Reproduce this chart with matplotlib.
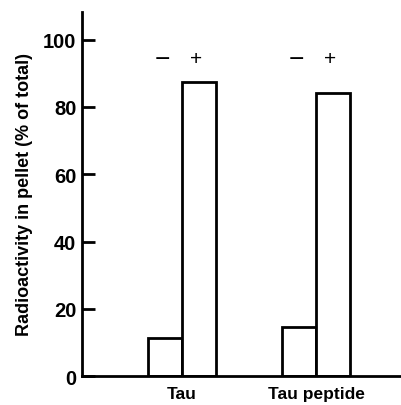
import numpy as np
import matplotlib.pyplot as plt

plt.rcParams['font.family'] = ['Liberation Sans', 'DejaVu Sans']

# Radioactivity in pellet (% of total), without (-) and with (+) microtubules
groups = ['Tau', 'Tau peptide']
minus_vals = [11.3, 14.6]
plus_vals = [87.3, 84.2]
signs = ['\u2212', '+']

fig = plt.figure(figsize=(4.02, 4.06), dpi=100)
ax = fig.add_axes([0.204, 0.0714, 0.796, 0.897])

x = np.arange(len(groups))
w = 0.254
ax.bar(x - w / 2, minus_vals, w, facecolor='white', edgecolor='black', linewidth=2)
ax.bar(x + w / 2, plus_vals, w, facecolor='white', edgecolor='black', linewidth=2)

for xi in x:
    ax.text(xi - 0.149, 94.3, signs[0], ha='center', va='center', fontsize=19)
    ax.text(xi + 0.104, 94.3, signs[1], ha='center', va='center', fontsize=15)

ax.set_xlim(-0.746, 1.642)
ax.set_ylim(0, 108.3)
ax.set_yticks([0, 20, 40, 60, 80, 100])
ax.set_xticks(x)
ax.set_xticklabels(groups, fontsize=12.5, fontweight='bold')
ax.tick_params(axis='x', length=0, pad=7)
ax.tick_params(axis='y', direction='in', length=9.4, width=2, pad=4,
               labelsize=14.5)
for lab in ax.get_yticklabels():
    lab.set_fontweight('bold')

ax.spines['top'].set_visible(False)
ax.spines['right'].set_visible(False)
ax.spines['left'].set_linewidth(2)
ax.spines['bottom'].set_linewidth(2)

ax.set_ylabel('Radioactivity in pellet (% of total)', fontsize=13,
              fontweight='bold', labelpad=7)

fig.savefig('out.png', dpi=100)
